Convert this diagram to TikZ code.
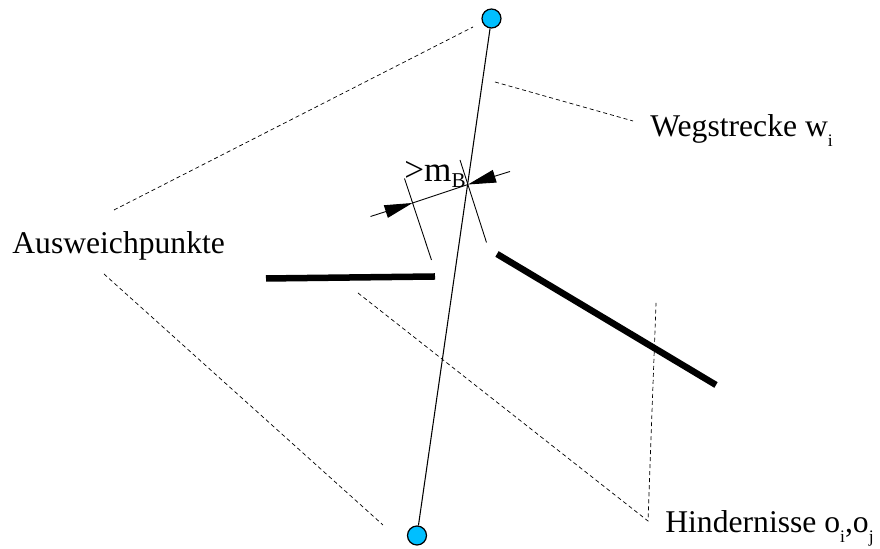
\documentclass[tikz,border=0pt]{standalone}
\usepackage{fontspec}
\setmainfont{Liberation Serif}
\usepackage{tikz}
\usetikzlibrary{arrows.meta}
\definecolor{PointBlue}{HTML}{00BFFF}
\newcommand{\lowsub}[2][0.3em]{\raisebox{-#1}{\fontsize{10}{10}\selectfont #2}}

\begin{document}
\begin{tikzpicture}[x=1cm,y=1cm,>={Triangle[length=5.6mm,width=2.6mm]}]
  \tikzstyle{waypt}=[circle,draw=black,fill=PointBlue,line width=0.7pt,
    minimum size=3.8mm,inner sep=0pt]
  \tikzstyle{caption}=[anchor=base west,inner sep=0pt,
    font=\fontsize{18}{20}\selectfont]
  \tikzstyle{obstacle}=[line width=3.7pt]
  \tikzstyle{leader}=[dash pattern=on 2.3pt off 1.7pt,line width=0.4pt]
  \tikzstyle{dimline}=[line width=0.5pt]
  \useasboundingbox (0,0) rectangle (17.6,10.98);
  % path segment between the two evasion points
  \node[waypt] (top) at (9.83,10.61) {};
  \node[waypt] (bot) at (8.34,0.27) {};
  \draw[line width=0.6pt] (top)--(bot);
  % obstacles
  \coordinate (o1a) at (5.32,5.41);
  \coordinate (o1b) at (8.70,5.45);
  \coordinate (o2a) at (9.94,5.90);
  \coordinate (o2b) at (14.32,3.28);
  \draw[obstacle] (o1a)--(o1b);
  \draw[obstacle] (o2a)--(o2b);
  % clearance dimension
  \coordinate (e1a) at (8.09,7.41);
  \coordinate (e1b) at (8.63,5.78);
  \coordinate (e2a) at (9.20,7.78);
  \coordinate (e2b) at (9.73,6.13);
  \coordinate (dl) at (7.41,6.65);
  \coordinate (dr) at (10.20,7.55);
  \coordinate (tl) at (8.25,6.92);
  \coordinate (tr) at (9.36,7.29);
  \draw[dimline] (e1a)--(e1b);
  \draw[dimline] (e2a)--(e2b);
  \draw[dimline] (tl)--(tr);
  \draw[dimline,->] (dl)--(tl);
  \draw[dimline,->] (dr)--(tr);
  \node[caption,font=\fontsize{20}{22}\selectfont] (mb) at (8.08,7.34)
    {>m\raisebox{-0.15em}{\fontsize{12}{12}\selectfont B}};
  % labels
  \node[caption] (aus) at (0.24,5.90) {Ausweichpunkte};
  \node[caption] (weg) at (13.00,8.24) {Wegstrecke w\lowsub{i}};
  \node[caption] (hin) at (13.30,0.32) {Hindernisse o\lowsub{i},o\lowsub{j}};
  % leader lines
  \coordinate (a1) at (2.28,6.78);
  \coordinate (a2) at (2.08,5.50);
  \coordinate (p1) at (9.46,10.44);
  \coordinate (p2) at (7.66,0.48);
  \coordinate (w1) at (9.90,9.34);
  \coordinate (w2) at (12.66,8.56);
  \coordinate (h0) at (12.96,0.56);
  \coordinate (h1) at (7.16,5.12);
  \coordinate (h2) at (13.12,4.92);
  \draw[leader] (a1)--(p1);
  \draw[leader] (a2)--(p2);
  \draw[leader] (w1)--(w2);
  \draw[leader] (h1)--(h0)--(h2);
\end{tikzpicture}
\end{document}
